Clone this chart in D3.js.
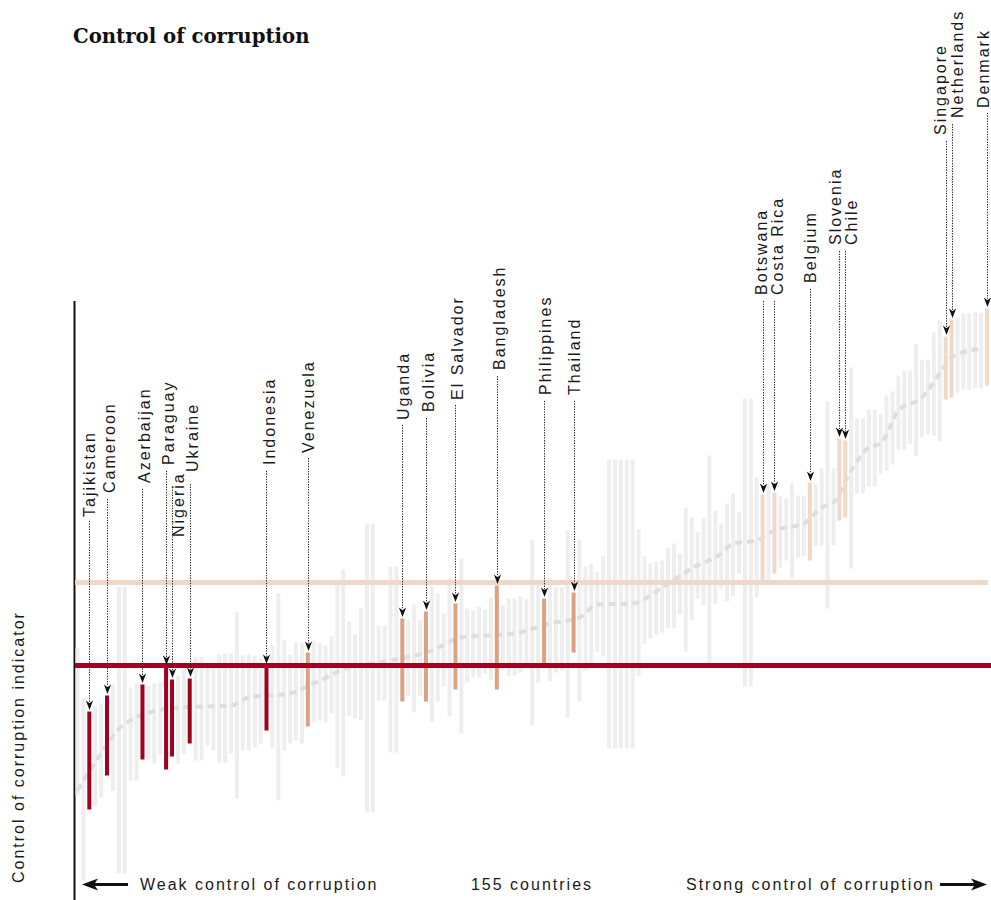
<!DOCTYPE html>
<html><head><meta charset="utf-8">
<script src="https://cdn.jsdelivr.net/npm/d3@7"></script>
<style>html,body{margin:0;padding:0;background:#fff}svg{display:block}</style>
</head><body>
<svg id="chart" width="991" height="900"></svg>
<script>
// ---------- DATA ----------
const title = "Control of corruption";
const yAxisTitle = "Control of corruption indicator";
const bottomLabels = ["Weak control of corruption", "155 countries", "Strong control of corruption"];

// Upper and lower bound of the indicator for each of the 155 countries, ranked weakest -> strongest
const highs = [
 -0.65,-1.16,-1.29,-1.24,-1.21,-1.13,-1.02,-0.04,-0.04,-1.05,
 -1.01,-1.02,-1.03,-1.01,-1.00,-0.84,-0.97,-0.93,-0.87,-0.96,
 -0.75,-0.75,-0.85,-0.82,-0.72,-0.71,-0.71,-0.30,-0.73,-0.72,
 -0.73,-0.76,-0.83,-0.63,-0.11,-0.58,-0.72,-0.60,-0.60,-0.70,
 -0.58,-0.60,-0.63,-0.54, 0.03, 0.13,-0.39,-0.52,-0.26, 0.59,
  0.59,-0.43,-0.43, 0.16, 0.16,-0.36,-0.38,-0.22,-0.38,-0.29,
 -0.04,-0.11,-0.31, 0.04,-0.21, 0.24,-0.26,-0.28,-0.24,-0.27,
 -0.15,-0.03,-0.23,-0.16,-0.16,-0.14,-0.17, 0.43, 0.03,-0.16,
  0.05,-0.05,-0.05, 0.52,-0.10, 0.43, 0.16, 0.19, 0.11, 0.27,
  1.23, 1.23, 1.23, 1.23, 1.23, 0.53, 0.26, 0.19, 0.21, 0.22,
  0.35, 0.39, 0.29, 0.75, 0.65, 0.50, 0.64, 1.27, 0.72, 0.59,
  0.79, 0.89, 0.70, 1.84, 1.84, 1.05, 0.88, 0.99, 0.90, 0.86,
  0.84, 0.99, 0.87, 0.86, 1.00, 0.98, 1.14, 1.81, 1.14, 1.44,
  1.42, 2.15, 1.64, 1.64, 1.73, 1.73, 1.68, 1.87, 1.91, 2.06,
  2.12, 2.12, 2.38, 2.22, 2.23, 2.50, 2.62, 2.46, 2.63, 2.65,
  2.69, 2.69, 2.70, 2.69, 2.74
];
const lows = [
 -2.13,-2.98,-2.27,-2.24,-2.15,-1.93,-2.08,-2.91,-2.91,-1.98,
 -1.98,-1.77,-1.78,-1.81,-1.72,-1.87,-1.74,-1.81,-1.71,-1.61,
 -1.78,-1.78,-1.63,-1.68,-1.80,-1.80,-1.71,-2.16,-1.68,-1.68,
 -1.65,-1.61,-1.48,-1.66,-2.18,-1.68,-1.61,-1.58,-1.61,-1.44,
 -1.40,-1.38,-1.40,-1.31,-1.85,-1.94,-1.33,-1.36,-1.38,-2.30,
 -2.30,-1.18,-1.18,-1.70,-1.70,-1.19,-1.13,-1.30,-1.13,-1.19,
 -1.39,-1.19,-1.04,-1.34,-1.07,-1.51,-1.00,-0.95,-0.95,-0.91,
 -0.97,-1.07,-0.87,-0.93,-0.93,-0.90,-0.86,-1.43,-1.00,-0.82,
 -0.99,-0.90,-0.88,-1.35,-0.70,-1.19,-0.88,-0.81,-0.69,-0.73,
 -1.66,-1.66,-1.66,-1.66,-1.66,-0.93,-0.61,-0.56,-0.52,-0.50,
 -0.46,-0.46,-0.32,-0.69,-0.38,-0.16,-0.23,-0.81,-0.21,-0.06,
 -0.19,-0.14, 0.09,-1.04,-1.04,-0.15, 0.00, 0.02, 0.09, 0.15,
  0.22, 0.04, 0.25, 0.27, 0.22, 0.37, 0.37,-0.26, 0.37, 0.62,
  0.65, 0.14, 0.89, 0.89, 0.96, 0.96, 1.09, 1.12, 1.18, 1.33,
  1.33, 1.39, 1.27, 1.45, 1.48, 1.47, 1.41, 1.83, 1.85, 1.90,
  1.93, 1.93, 1.95, 1.94, 1.97
];

// Point-estimate curve (rank, value)
const estimateRanks  = [0, 4, 8, 17, 26, 29, 36, 40, 46, 52, 60, 65, 74, 80, 85, 88, 94, 99, 104, 109, 111, 115, 118, 123, 126, 128, 131, 134, 136, 139, 143, 146, 148, 152, 153];
const estimateValues = [-2.08,-1.71,-1.41,-1.25,-1.23,-1.15,-1.11,-1.01,-0.85,-0.79,-0.68,-0.55,-0.51,-0.41,-0.35,-0.22,-0.21,-0.05,0.14,0.29,0.39,0.42,0.52,0.59,0.75,0.80,1.12,1.35,1.39,1.72,1.85,2.09,2.25,2.33,2.34];

// Highlighted countries
const labelNames  = ["Tajikistan","Cameroon","Azerbaijan","Paraguay","Nigeria","Ukraine","Indonesia",
                     "Venezuela","Uganda","Bolivia","El Salvador","Bangladesh","Philippines","Thailand",
                     "Botswana","Costa Rica","Belgium","Slovenia","Chile","Singapore","Netherlands","Denmark"];
const labelRanks  = [2,5,11,15,16,19,32, 39,55,59,64,71,79,84, 116,118,124,129,130,147,148,154];
const labelGroups = ["low","low","low","low","low","low","low",
                     "mid","mid","mid","mid","mid","mid","mid",
                     "high","high","high","high","high","high","high","high"];

// Threshold lines
const upperThreshold = 0;
const lowerThreshold = -0.83;

// ---------- LAYOUT (annotation placement) ----------
const labelLayout = {
  "Tajikistan":{bottom:517,lead:521,dx:0}, "Cameroon":{bottom:493,lead:499,dx:2},
  "Azerbaijan":{bottom:483,lead:489,dx:1.5}, "Paraguay":{bottom:465,lead:471,dx:2},
  "Nigeria":{bottom:537,lead:487,dx:6}, "Ukraine":{bottom:472,lead:484,dx:3},
  "Indonesia":{bottom:465,lead:471,dx:2.5}, "Venezuela":{bottom:453,lead:458,dx:0},
  "Uganda":{bottom:420,lead:425,dx:1}, "Bolivia":{bottom:412,lead:418,dx:2},
  "El Salvador":{bottom:400,lead:405,dx:2}, "Bangladesh":{bottom:370,lead:376,dx:2},
  "Philippines":{bottom:395,lead:401,dx:1}, "Thailand":{bottom:395,lead:401,dx:1},
  "Botswana":{bottom:295,lead:301,dx:-1}, "Costa Rica":{bottom:295,lead:301,dx:3},
  "Belgium":{bottom:283,lead:289,dx:0}, "Slovenia":{bottom:245,lead:251,dx:-4},
  "Chile":{bottom:245,lead:251,dx:6}, "Singapore":{bottom:135,lead:141,dx:-5},
  "Netherlands":{bottom:118,lead:124,dx:6}, "Denmark":{bottom:108,lead:113,dx:-3.5}
};
const groupColor = {low:"#a3001f", mid:"#dba182", high:"#f1d9c6"};

// ---------- CHART ----------
const svg = d3.select("#chart");
const n = highs.length;
const x = d3.scaleLinear().domain([0, n - 1]).range([77.5, 987]);
const y = d3.scaleLinear().domain([-3, 3]).range([882.5, 282.5]);
const barW = 4;
const labelFont = "'Liberation Sans', Arial, Helvetica, sans-serif";

// title
svg.append("text").attr("x", 73).attr("y", 43)
  .attr("font-family", "'DejaVu Serif', Georgia, serif").attr("font-weight", "bold")
  .attr("font-size", 19.7).attr("fill", "#111").text(title);

// axis line
svg.append("line").attr("x1", 74.5).attr("x2", 74.5).attr("y1", 301).attr("y2", 900)
  .attr("stroke", "#111").attr("stroke-width", 2);

// gray bars
const highlighted = new Set(labelRanks);
svg.append("g").selectAll("rect").data(d3.range(n).filter(i => !highlighted.has(i))).join("rect")
  .attr("x", i => x(i) - barW / 2).attr("width", barW)
  .attr("y", i => y(highs[i])).attr("height", i => y(lows[i]) - y(highs[i]))
  .attr("fill", "#eeeeee");

// estimate curve
const est = estimateRanks.map((r, k) => [r, estimateValues[k]]);
svg.append("path").datum(est)
  .attr("d", d3.line().x(d => x(d[0])).y(d => y(d[1])).curve(d3.curveMonotoneX))
  .attr("fill", "none").attr("stroke", "#dedede").attr("stroke-width", 4)
  .attr("stroke-dasharray", "7,5");

// highlighted bars
svg.append("g").selectAll("rect").data(labelRanks.map((r, k) => ({r, g: labelGroups[k]}))).join("rect")
  .attr("x", d => x(d.r) - barW / 2).attr("width", barW)
  .attr("y", d => y(highs[d.r])).attr("height", d => y(lows[d.r]) - y(highs[d.r]))
  .attr("fill", d => groupColor[d.g]);

// threshold lines
svg.append("line").attr("x1", 75).attr("x2", x(n - 1) + 1)
  .attr("y1", y(upperThreshold)).attr("y2", y(upperThreshold))
  .attr("stroke", "#f0d8c6").attr("stroke-width", 5);
svg.append("line").attr("x1", 75).attr("x2", 991)
  .attr("y1", y(lowerThreshold)).attr("y2", y(lowerThreshold))
  .attr("stroke", "#a3001f").attr("stroke-width", 5);

// leaders, arrows and labels
const ann = svg.append("g");
labelNames.forEach((name, k) => {
  const r = labelRanks[k], L = labelLayout[name];
  const bx = Math.round(x(r)) + 0.5, top = y(highs[r]);
  ann.append("line").attr("x1", bx).attr("x2", bx).attr("y1", L.lead).attr("y2", top - 9)
    .attr("stroke", "#222").attr("stroke-width", 1).attr("stroke-dasharray", "1.3,1.3");
  ann.append("path").attr("d", "M0,0L-3.6,-9.5L0,-6.8L3.6,-9.5Z")
    .attr("transform", `translate(${bx},${top - 1.5})`).attr("fill", "#111");
  ann.append("text")
    .attr("transform", `translate(${x(r) + L.dx + 5.7},${L.bottom}) rotate(-90)`)
    .attr("font-family", labelFont).attr("font-size", 16).attr("letter-spacing", 2)
    .attr("fill", "#1a1a1a").text(name);
});

// y axis title
svg.append("text").attr("transform", "translate(24,883) rotate(-90)")
  .attr("font-family", labelFont).attr("font-size", 16).attr("letter-spacing", 2)
  .attr("fill", "#1a1a1a").text(yAxisTitle);

// bottom labels
const by = 890;
svg.append("text").attr("x", 140).attr("y", by).attr("font-family", labelFont).attr("font-size", 16)
  .attr("letter-spacing", 2).attr("fill", "#1a1a1a").text(bottomLabels[0]);
svg.append("text").attr("x", 532).attr("y", by).attr("text-anchor", "middle").attr("font-family", labelFont)
  .attr("font-size", 16).attr("letter-spacing", 2).attr("fill", "#1a1a1a").text(bottomLabels[1]);
svg.append("text").attr("x", 935).attr("y", by).attr("text-anchor", "end").attr("font-family", labelFont)
  .attr("font-size", 16).attr("letter-spacing", 2).attr("fill", "#1a1a1a").text(bottomLabels[2]);

// arrows
const ay = 884.5;
svg.append("path").attr("fill", "#111")
  .attr("d", `M82,${ay}L98,${ay-6}L95,${ay-1.5}L128,${ay-1.5}L128,${ay+1.5}L95,${ay+1.5}L98,${ay+6}Z`);
svg.append("path").attr("fill", "#111")
  .attr("d", `M987,${ay}L971,${ay-6}L974,${ay-1.5}L940,${ay-1.5}L940,${ay+1.5}L974,${ay+1.5}L971,${ay+6}Z`);
</script>
</body></html>
